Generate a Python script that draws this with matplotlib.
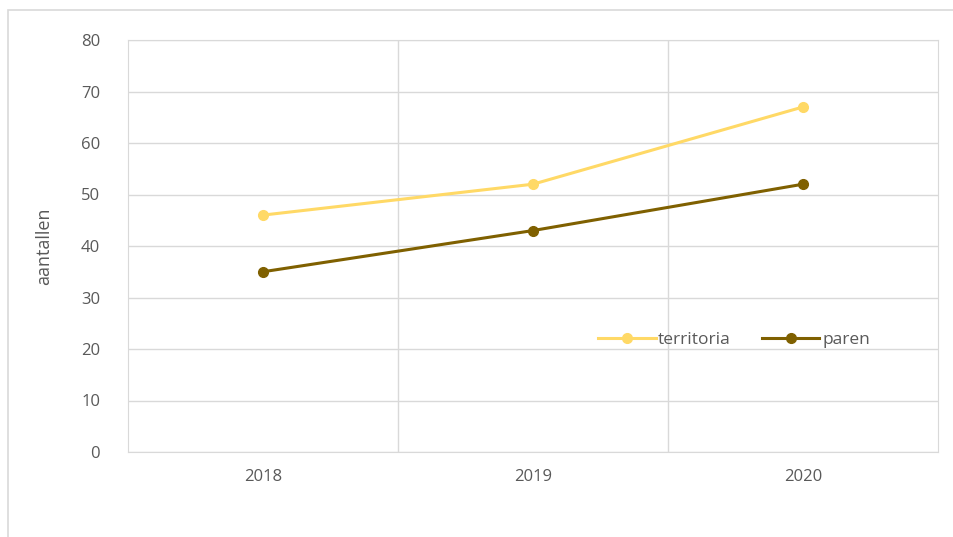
import matplotlib
matplotlib.use("Agg")
import matplotlib.pyplot as plt
from matplotlib.patches import Rectangle

years = ["2018", "2019", "2020"]
territoria = [46, 52, 67]
paren = [35, 43, 52]

plt.rcParams['font.family'] = ['Open Sans', 'DejaVu Sans']

fig = plt.figure(figsize=(9.54, 5.37), dpi=100)
fig.patches.append(Rectangle((8/954, -0.05), 1.2, 1 - 10/537 + 0.05, transform=fig.transFigure,
                             fill=False, edgecolor='#d9d9d9', linewidth=1.2))
ax = fig.add_axes([128/954, 1 - 452/537, (938 - 128)/954, (452 - 40)/537])

x = list(range(len(years)))
ax.plot(x, territoria, color='#FFD966', lw=2.2, marker='o', ms=7, label='territoria')
ax.plot(x, paren, color='#7F6000', lw=2.2, marker='o', ms=7, label='paren')

ax.set_xlim(-0.5, len(years) - 0.5)
ax.set_ylim(0, 80)
ax.set_yticks(range(0, 81, 10))
ax.set_xticks(x)
ax.set_xticklabels(years)
for b in [0.5, 1.5]:
    ax.axvline(b, color='#d9d9d9', lw=1, zorder=0)
ax.yaxis.grid(True, color='#d9d9d9', lw=1, zorder=0)
ax.set_axisbelow(True)
for s in ax.spines.values():
    s.set_color('#d9d9d9')
ax.tick_params(length=0, colors='#595959', labelsize=12)
ax.tick_params(axis='y', pad=20)
ax.tick_params(axis='x', pad=12)
ax.set_ylabel('aantallen', color='#595959', fontsize=13, labelpad=20)

leg = ax.legend(loc='center', bbox_to_anchor=((734 - 128)/810, (452 - 340)/412),
                ncol=2, frameon=False, fontsize=12.5, handlelength=3.3, columnspacing=1.8,
                handletextpad=0.15)
for t in leg.get_texts():
    t.set_color('#595959')

fig.savefig('out.png', dpi=100)
